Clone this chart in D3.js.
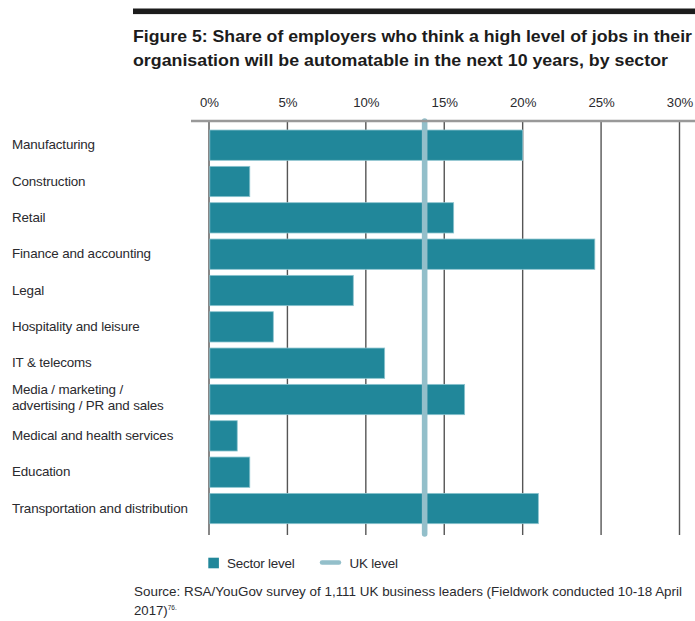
<!DOCTYPE html>
<html>
<head>
<meta charset="utf-8">
<script src="https://cdn.jsdelivr.net/npm/d3@7"></script>
<style>
  html, body { margin: 0; padding: 0; background: #ffffff; }
  svg { display: block; font-family: "Liberation Sans", Arial, sans-serif; }
</style>
</head>
<body>
<svg id="chart" width="695" height="621"></svg>
<script>
// Sectors, top to bottom
const categories = [
  "Manufacturing",
  "Construction",
  "Retail",
  "Finance and accounting",
  "Legal",
  "Hospitality and leisure",
  "IT & telecoms",
  "Media / marketing /|advertising / PR and sales",
  "Medical and health services",
  "Education",
  "Transportation and distribution"
];

// Share of employers (%) per sector
const sectorValues = [20.0, 2.6, 15.6, 24.6, 9.2, 4.1, 11.2, 16.3, 1.8, 2.6, 21.0];

// UK-wide level (%)
const ukLevel = 13.75;

// Axis ticks (%)
const tickValues = [0, 5, 10, 15, 20, 25, 30];

const titleLines = [
  "Figure 5: Share of employers who think a high level of jobs in their",
  "organisation will be automatable in the next 10 years, by sector"
];
const sourceLines = [
  "Source: RSA/YouGov survey of 1,111 UK business leaders (Fieldwork conducted 10-18 April",
  "2017)"
];
const sourceNote = "76.";
const legendLabels = ["Sector level", "UK level"];

const BAR = "#21879a";
const UK = "#93bfca";
const TEXT = "#2a2a2e";

const svg = d3.select("#chart");

const x = d3.scaleLinear().domain([0, 30]).range([209, 679.5]);
const y = d3.scaleBand()
  .domain(categories)
  .range([127, 526.7])
  .paddingInner(0.166)
  .paddingOuter(0.083);

const gridTop = 121, gridBottom = 535;

// Heavy rule above the title
svg.append("rect")
  .attr("x", 133).attr("y", 8.5)
  .attr("width", 695 - 133).attr("height", 5.6)
  .attr("fill", "#1c1c1c");

// Title
svg.append("g").selectAll("text")
  .data(titleLines)
  .join("text")
  .attr("x", 133)
  .attr("y", (d, i) => 41.7 + i * 24.6)
  .attr("font-size", 17)
  .attr("font-weight", "bold")
  .attr("fill", "#1c1c1c")
  .attr("textLength", (d, i) => i === 0 ? 559 : 535)
  .attr("lengthAdjust", "spacingAndGlyphs")
  .text(d => d);

// Vertical gridlines
svg.append("g").selectAll("line")
  .data(tickValues)
  .join("line")
  .attr("x1", d => x(d)).attr("x2", d => x(d))
  .attr("y1", gridTop).attr("y2", gridBottom)
  .attr("stroke", "#555")
  .attr("stroke-width", 1.4);

// Tick labels along the top
const axis = d3.axisTop(x)
  .tickValues(tickValues)
  .tickSize(0)
  .tickPadding(0)
  .tickFormat(d => d + "%");
const axisG = svg.append("g")
  .attr("transform", "translate(0,106.7)")
  .call(axis);
axisG.select(".domain").remove();
axisG.selectAll("text")
  .attr("font-family", "'Liberation Sans', Arial, sans-serif")
  .attr("font-size", 13.2)
  .attr("fill", TEXT);

// Sector bars
svg.append("g").selectAll("rect")
  .data(categories.map((c, i) => ({ c, v: sectorValues[i] })))
  .join("rect")
  .attr("x", x(0) + 0.8)
  .attr("y", d => y(d.c))
  .attr("width", d => x(d.v) - x(0) - 0.8)
  .attr("height", y.bandwidth())
  .attr("fill", BAR)
  .attr("stroke", "#8cc4cf")
  .attr("stroke-width", 0.8);

// UK level line
svg.append("line")
  .attr("x1", x(ukLevel)).attr("x2", x(ukLevel))
  .attr("y1", gridTop).attr("y2", gridBottom - 1)
  .attr("stroke", UK)
  .attr("stroke-width", 5.6)
  .attr("stroke-linecap", "round");

// Top axis rule
svg.append("line")
  .attr("x1", 191).attr("x2", 695)
  .attr("y1", gridTop).attr("y2", gridTop)
  .attr("stroke", "#999")
  .attr("stroke-width", 2.6);

// Category labels
const labelG = svg.append("g");
categories.forEach(c => {
  const lines = c.split("|");
  const cy = y(c) + y.bandwidth() / 2;
  const n = lines.length;
  lines.forEach((line, i) => {
    labelG.append("text")
      .attr("x", 12)
      .attr("y", cy + (i - (n - 1) / 2) * 16 + (n > 1 ? 2.5 : 4.3))
      .attr("font-size", 13.4)
      .attr("letter-spacing", -0.15)
      .attr("fill", TEXT)
      .text(line);
  });
});

// Legend
const legend = svg.append("g");
legend.append("rect")
  .attr("x", 208.3).attr("y", 557.7)
  .attr("width", 10.6).attr("height", 10.6)
  .attr("fill", BAR);
legend.append("text")
  .attr("x", 227).attr("y", 567.7)
  .attr("font-size", 13.4).attr("letter-spacing", -0.2)
  .attr("fill", TEXT)
  .text(legendLabels[0]);
legend.append("line")
  .attr("x1", 322).attr("x2", 339)
  .attr("y1", 562.5).attr("y2", 562.5)
  .attr("stroke", UK).attr("stroke-width", 4.5)
  .attr("stroke-linecap", "round");
legend.append("text")
  .attr("x", 349.5).attr("y", 567.7)
  .attr("font-size", 13.4).attr("letter-spacing", -0.2)
  .attr("fill", TEXT)
  .text(legendLabels[1]);

// Source note
svg.append("text")
  .attr("x", 134).attr("y", 596)
  .attr("font-size", 13.2)
  .attr("fill", TEXT)
  .attr("textLength", 548)
  .attr("lengthAdjust", "spacingAndGlyphs")
  .text(sourceLines[0]);
const src2 = svg.append("text")
  .attr("x", 134).attr("y", 615)
  .attr("font-size", 13.2)
  .attr("fill", TEXT);
src2.append("tspan").text(sourceLines[1]);
src2.append("tspan")
  .attr("font-size", 6.5)
  .attr("dy", -5)
  .text(sourceNote);
</script>
</body>
</html>
